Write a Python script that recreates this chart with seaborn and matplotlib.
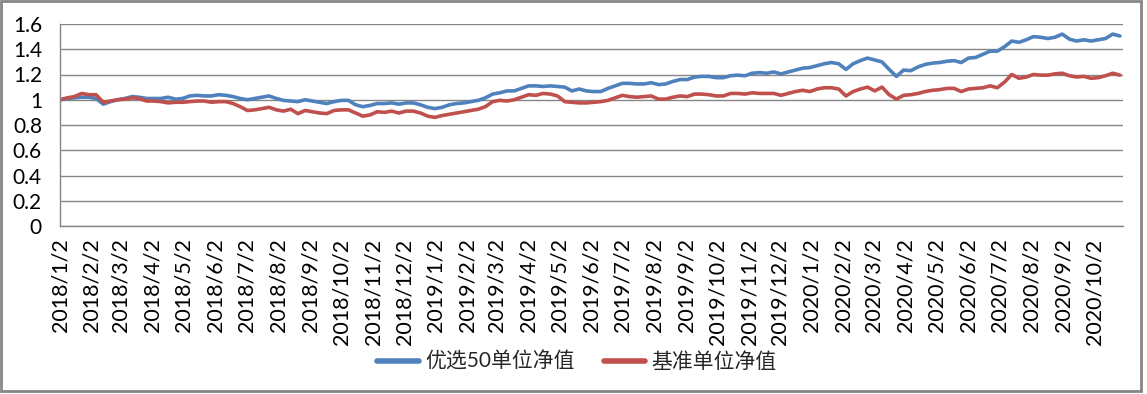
import pandas as pd
import matplotlib.pyplot as plt
import matplotlib.dates as mdates
from matplotlib.ticker import FuncFormatter
from matplotlib.patches import Rectangle
import seaborn as sns

plt.switch_backend('Agg')

# weekly readings, first point on 2018/1/2
start_date = '2018-01-02'
end_date = '2020-10-30'
series_names = ['优选50单位净值', '基准单位净值']
series_colors = ['#4F81BD', '#C0504D']

youxuan50 = [
    1.00, 1.01, 1.015, 1.02, 1.02, 1.01, 0.965, 0.985, 1.00, 1.01,
    1.025, 1.02, 1.01, 1.01, 1.01, 1.02, 1.005, 1.01, 1.03, 1.035,
    1.03, 1.03, 1.04, 1.035, 1.025, 1.01, 1.00, 1.01, 1.02, 1.03,
    1.01, 0.995, 0.99, 0.985, 1.00, 0.99, 0.98, 0.97, 0.985, 0.995,
    0.995, 0.96, 0.945, 0.955, 0.97, 0.97, 0.975, 0.965, 0.975, 0.975,
    0.96, 0.94, 0.93, 0.94, 0.96, 0.97, 0.975, 0.985, 0.995, 1.015,
    1.045, 1.055, 1.07, 1.07, 1.09, 1.11, 1.11, 1.105, 1.11, 1.105,
    1.10, 1.07, 1.085, 1.07, 1.065, 1.065, 1.09, 1.11, 1.13, 1.13,
    1.125, 1.125, 1.135, 1.12, 1.125, 1.145, 1.16, 1.16, 1.18, 1.185,
    1.185, 1.175, 1.175, 1.19, 1.195, 1.19, 1.21, 1.215, 1.21, 1.22,
    1.205, 1.22, 1.235, 1.25, 1.255, 1.27, 1.285, 1.295, 1.285, 1.24,
    1.285, 1.31, 1.33, 1.315, 1.30, 1.24, 1.185, 1.235, 1.23, 1.26,
    1.28, 1.29, 1.295, 1.305, 1.31, 1.295, 1.33, 1.335, 1.36, 1.385,
    1.385, 1.42, 1.465, 1.455, 1.475, 1.50, 1.495, 1.485, 1.495, 1.52,
    1.48, 1.465, 1.475, 1.465, 1.475, 1.485, 1.52, 1.505,
]

benchmark = [
    1.00, 1.015, 1.025, 1.05, 1.04, 1.04, 0.98, 0.99, 1.00, 1.005,
    1.015, 1.01, 0.99, 0.99, 0.985, 0.975, 0.98, 0.98, 0.985, 0.99,
    0.99, 0.98, 0.985, 0.985, 0.97, 0.945, 0.915, 0.92, 0.93, 0.94,
    0.92, 0.91, 0.925, 0.89, 0.915, 0.905, 0.895, 0.89, 0.915, 0.92,
    0.92, 0.895, 0.87, 0.88, 0.905, 0.90, 0.91, 0.895, 0.91, 0.91,
    0.895, 0.87, 0.86, 0.875, 0.885, 0.895, 0.905, 0.915, 0.925, 0.945,
    0.985, 0.995, 0.99, 1.00, 1.02, 1.04, 1.035, 1.05, 1.045, 1.03,
    0.985, 0.98, 0.975, 0.975, 0.98, 0.985, 0.995, 1.015, 1.035, 1.025,
    1.02, 1.025, 1.03, 1.005, 1.005, 1.02, 1.03, 1.025, 1.045, 1.045,
    1.04, 1.03, 1.03, 1.05, 1.05, 1.045, 1.055, 1.05, 1.05, 1.05,
    1.035, 1.05, 1.065, 1.075, 1.065, 1.085, 1.095, 1.095, 1.085, 1.03,
    1.065, 1.085, 1.10, 1.07, 1.10, 1.04, 1.005, 1.035, 1.04, 1.05,
    1.065, 1.075, 1.08, 1.09, 1.09, 1.065, 1.085, 1.09, 1.095, 1.11,
    1.095, 1.14, 1.20, 1.17, 1.18, 1.20, 1.195, 1.195, 1.205, 1.21,
    1.19, 1.18, 1.185, 1.17, 1.175, 1.19, 1.21, 1.195,
]

y_ticks = [0, 0.2, 0.4, 0.6, 0.8, 1.0, 1.2, 1.4, 1.6]

dates = pd.date_range(start_date, periods=len(youxuan50), freq='7D')
df = pd.DataFrame({'date': dates,
                   series_names[0]: youxuan50,
                   series_names[1]: benchmark})
long_df = df.melt(id_vars='date', var_name='series', value_name='nav')

sns.set_style('white')
plt.rcParams['font.family'] = ['Lato', 'Noto Sans CJK SC', 'DejaVu Sans']

W, H = 1147, 394
fig = plt.figure(figsize=(W / 100, H / 100), dpi=100)
ax = fig.add_axes([60 / W, 1 - 226 / H, (1123 - 60) / W, (226 - 24) / H])

sns.lineplot(data=long_df, x='date', y='nav', hue='series',
             palette=series_colors, linewidth=2.6, ax=ax)

grid_color = '#868686'
ax.set_ylim(0, 1.6)
ax.set_yticks(y_ticks)
ax.yaxis.set_major_formatter(FuncFormatter(lambda v, p: f'{v:g}'))
ax.set_xlim(pd.Timestamp(start_date), pd.Timestamp(end_date))
ax.xaxis.set_major_locator(mdates.MonthLocator(bymonthday=2))


def date_label(v, pos):
    d = mdates.num2date(v)
    return f'{d.year}/{d.month}/{d.day}'


ax.xaxis.set_major_formatter(FuncFormatter(date_label))

ax.yaxis.grid(True, color=grid_color, linewidth=1)
ax.xaxis.grid(False)
ax.set_axisbelow(True)
for side in ['top', 'right']:
    ax.spines[side].set_visible(False)
for side in ['left', 'bottom']:
    ax.spines[side].set_color(grid_color)
    ax.spines[side].set_linewidth(1)

ax.tick_params(axis='both', direction='out', length=5, width=1,
               color=grid_color, labelcolor='black')
ax.tick_params(axis='x', rotation=90, pad=4, labelsize=15.5)
ax.tick_params(axis='y', pad=8, labelsize=15)
ax.set_xlabel('')
ax.set_ylabel('')

handles, labels = ax.get_legend_handles_labels()
leg = ax.legend(handles, labels, loc='center',
                bbox_to_anchor=(577 / W, 1 - 362 / H),
                bbox_transform=fig.transFigure, ncol=2, frameon=False,
                fontsize=15, handlelength=2.0, handletextpad=0.3,
                columnspacing=1.4)
for line in leg.get_lines():
    line.set_linewidth(4)

# chart area border
fig.patches.append(Rectangle((1 / W, 3 / H), 1140 / W, 390 / H,
                             transform=fig.transFigure, fill=False,
                             edgecolor=grid_color, linewidth=2))

fig.savefig('out.png', dpi=100)
